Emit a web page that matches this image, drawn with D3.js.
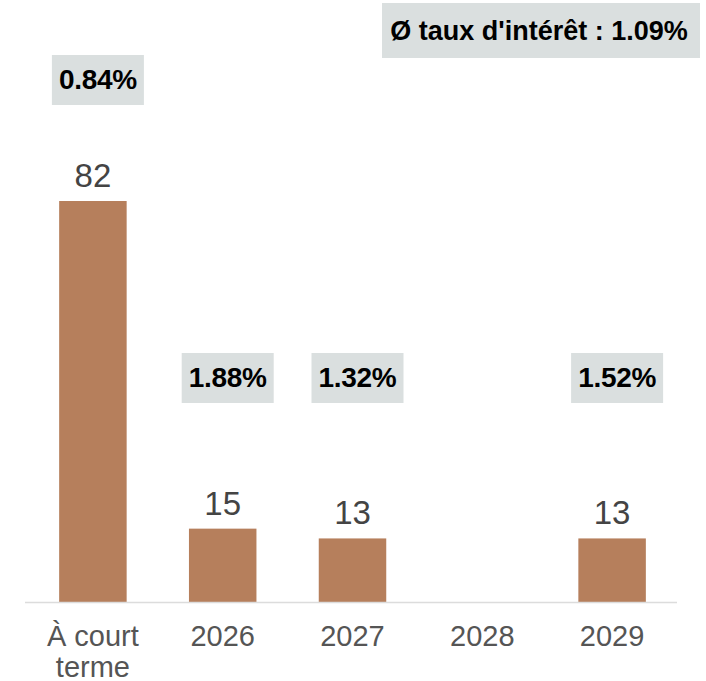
<!DOCTYPE html>
<html>
<head>
<meta charset="utf-8">
<script src="https://cdn.jsdelivr.net/npm/d3@7"></script>
<style>
    body { margin: 0; background: #fff; }
    svg { font-family: "Liberation Sans", Arial, sans-serif; }
</style>
</head>
<body>
<div id="chart"></div>
<script>
// chart data
var categories = ["À court terme", "2026", "2027", "2028", "2029"];
var amounts = [82, 15, 13, 0, 13];
var rates = ["0.84%", "1.88%", "1.32%", null, "1.52%"];
var avgRate = "Ø taux d'intérêt : 1.09%";

var width = 706,
    height = 681;

var svg = d3.select("#chart")
    .append("svg")
    .attr("width", width)
    .attr("height", height);

// x scale, one band per category
var x = d3.scaleBand()
    .domain(categories)
    .range([28, 677])
    .paddingInner(0.48)
    .paddingOuter(0.24);

// y scale
var y = d3.scaleLinear()
    .domain([0, 82])
    .range([602, 201]);

var rows = categories.map(function (c, i) {
    return { cat: c, value: amounts[i], rate: rates[i] };
});

// bars
svg.selectAll("rect.bar")
    .data(rows.filter(function (d) { return d.value > 0; }))
    .enter().append("rect")
    .attr("class", "bar")
    .attr("x", function (d) { return x(d.cat); })
    .attr("y", function (d) { return y(d.value); })
    .attr("width", x.bandwidth())
    .attr("height", function (d) { return y(0) - y(d.value); })
    .attr("fill", "#b67f5c");

// value labels above bars
svg.selectAll("text.value")
    .data(rows.filter(function (d) { return d.value > 0; }))
    .enter().append("text")
    .attr("class", "value")
    .attr("x", function (d) { return x(d.cat) + x.bandwidth() / 2; })
    .attr("y", function (d) { return y(d.value) - 14; })
    .attr("text-anchor", "middle")
    .attr("fill", "#444")
    .style("font-size", "33px")
    .text(function (d) { return d.value; });

// x axis line
svg.append("line")
    .attr("x1", 25)
    .attr("x2", 677)
    .attr("y1", y(0) + 0.5)
    .attr("y2", y(0) + 0.5)
    .attr("stroke", "#dcdcdc")
    .attr("stroke-width", 1.5);

// category labels, wrapped on two lines when needed
var xAxis = svg.append("g");
rows.forEach(function (d) {
    var words = d.cat === "À court terme" ? ["À court", "terme"] : [d.cat];
    var t = xAxis.append("text")
        .attr("text-anchor", "middle")
        .attr("fill", "#555")
        .style("font-size", "29px");
    words.forEach(function (w, j) {
        t.append("tspan")
            .attr("x", x(d.cat) + x.bandwidth() / 2)
            .attr("y", 646 + j * 31)
            .text(w);
    });
});

// interest rate boxes
var rateGroups = svg.selectAll("g.rate")
    .data(rows.filter(function (d) { return d.rate; }))
    .enter().append("g")
    .attr("class", "rate")
    .attr("transform", function (d) {
        var top = Math.min(353, y(d.value) - 146);
        return "translate(" + (x(d.cat) + x.bandwidth() / 2 + 5) + "," + top + ")";
    });

rateGroups.append("rect")
    .attr("x", -46)
    .attr("y", 0)
    .attr("width", 92)
    .attr("height", 50)
    .attr("fill", "#dadfdf");

rateGroups.append("text")
    .attr("x", 0)
    .attr("y", 34)
    .attr("text-anchor", "middle")
    .attr("fill", "#000")
    .style("font-size", "28px")
    .style("font-weight", "bold")
    .style("letter-spacing", "-0.3px")
    .text(function (d) { return d.rate; });

// average rate box top right
var avg = svg.append("g").attr("transform", "translate(382,3)");
avg.append("rect")
    .attr("width", 318)
    .attr("height", 55)
    .attr("fill", "#dadfdf");
avg.append("text")
    .attr("x", 157)
    .attr("y", 37)
    .attr("text-anchor", "middle")
    .attr("fill", "#000")
    .style("font-size", "27px")
    .style("font-weight", "bold")
    .text(avgRate);
</script>
</body>
</html>
